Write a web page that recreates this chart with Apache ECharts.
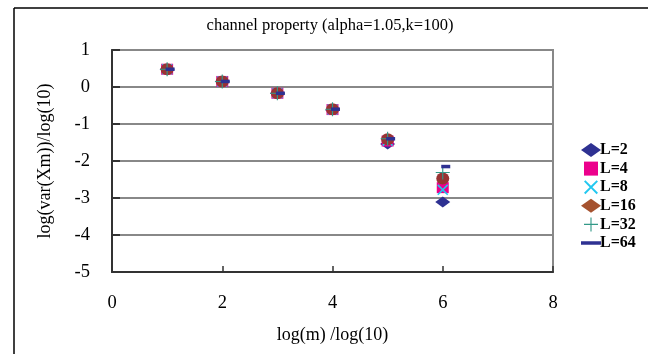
<!DOCTYPE html>
<html>
<head>
<meta charset="utf-8">
<script src="https://cdn.jsdelivr.net/npm/echarts@6/dist/echarts.min.js"></script>
<style>html,body{margin:0;padding:0;background:#fff}#c{width:648px;height:354px}</style>
</head>
<body>
<div id="c"></div>
<script>
var xValues = [1, 2, 3, 4, 5, 6];
var seriesNames = ['L=2', 'L=4', 'L=8', 'L=16', 'L=32', 'L=64'];
var L2  = [0.48, 0.15, -0.17, -0.62, -1.54, -3.11];
var L4  = [0.48, 0.15, -0.17, -0.61, -1.46, -2.72];
var L8  = [0.48, 0.15, -0.17, -0.61, -1.45, -2.78];
var L16 = [0.48, 0.15, -0.17, -0.60, -1.41, -2.47];
var L32 = [0.48, 0.15, -0.17, -0.60, -1.40, -2.31];
var L64 = [0.48, 0.15, -0.17, -0.60, -1.40, -2.15];
var xTicks = [0, 2, 4, 6, 8];
var yTicks = [-5, -4, -3, -2, -1, 0, 1];

var allData = [L2, L4, L8, L16, L32, L64];
var FONT = '"Liberation Serif", "DejaVu Serif", serif';
var crossX = 'path://M0,1L1,0L5,4L9,0L10,1L6,5L10,9L9,10L5,6L1,10L0,9L4,5Z';
var plusP = 'path://M4.6,0H5.4V4.6H10V5.4H5.4V10H4.6V5.4H0V4.6H4.6Z';
var styles = [
  {symbol: 'diamond', size: [15, 11], color: '#2E3192', icon: 'diamond'},
  {symbol: 'rect', size: [12, 11], color: '#EC008C', icon: 'path://M0,0H10V10H0Z'},
  {symbol: crossX, size: [11, 11], color: '#22C8F0', icon: crossX},
  {symbol: 'circle', size: [13, 12], color: '#993333', icon: 'diamond', legendColor: '#A5522F'},
  {symbol: plusP, size: [14, 14], color: '#339988', icon: plusP},
  {symbol: 'rect', size: [9, 3.5], color: '#2E3192', icon: 'path://M0,0H20V3.5H0Z', offset: [3, 0]}
];

var series = seriesNames.map(function (n, i) {
  var s = styles[i];
  return {
    name: n,
    type: 'scatter',
    symbol: s.symbol,
    symbolSize: s.size,
    symbolOffset: s.offset || [0, 0],
    itemStyle: {color: s.color, opacity: 1},
    data: xValues.map(function (x, j) { return [x, allData[i][j]]; }),
    z: 3 + i
  };
});

var chart = echarts.init(document.getElementById('c'), null, {renderer: 'canvas'});
chart.setOption({
  backgroundColor: '#fff',
  animation: false,
  title: {
    text: 'channel property (alpha=1.05,k=100)',
    left: 325, top: 12, textAlign: 'center',
    textStyle: {fontFamily: FONT, fontSize: 16.5, fontWeight: 'normal', color: '#000'}
  },
  grid: {left: 112, right: 95, top: 50, bottom: 82, show: true, borderColor: '#888', borderWidth: 2, backgroundColor: 'transparent'},
  legend: {
    orient: 'vertical', left: 576, top: 137,
    itemWidth: 20, itemHeight: 14, itemGap: 2.6,
    textStyle: {fontFamily: FONT, fontSize: 16, fontWeight: 'bold', color: '#000', padding: [0, 0, 0, -6]},
    data: seriesNames.map(function (n, i) {
      var d = {name: n, icon: styles[i].icon};
      if (styles[i].legendColor) d.itemStyle = {color: styles[i].legendColor};
      return d;
    })
  },
  xAxis: {
    type: 'value', min: xTicks[0], max: xTicks[xTicks.length - 1], interval: 2,
    name: 'log(m) /log(10)', nameLocation: 'middle', nameGap: 54,
    nameTextStyle: {fontFamily: FONT, fontSize: 18, color: '#000'},
    axisLine: {show: true, onZero: false, lineStyle: {color: '#333', width: 2}},
    axisTick: {show: true, inside: true, length: 6, lineStyle: {color: '#333', width: 1.5}},
    axisLabel: {fontFamily: FONT, fontSize: 18.5, color: '#000', margin: 22},
    splitLine: {show: false}
  },
  yAxis: {
    type: 'value', min: yTicks[0], max: yTicks[yTicks.length - 1], interval: 1,
    name: 'log(var(Xm))/log(10)', nameLocation: 'middle', nameGap: 58, nameRotate: 90,
    nameTextStyle: {fontFamily: FONT, fontSize: 18, color: '#000'},
    axisLine: {show: true, onZero: false, lineStyle: {color: '#333', width: 2}},
    axisTick: {show: true, inside: true, length: 8, lineStyle: {color: '#333', width: 2}},
    axisLabel: {fontFamily: FONT, fontSize: 18.5, color: '#000', margin: 22},
    splitLine: {show: true, lineStyle: {color: '#888', width: 2}}
  },
  graphic: [
    {type: 'line', shape: {x1: 14, y1: 8, x2: 14, y2: 354}, style: {stroke: '#000', lineWidth: 1.5}, silent: true},
    {type: 'line', shape: {x1: 14, y1: 8, x2: 648, y2: 8}, style: {stroke: '#000', lineWidth: 1.5}, silent: true}
  ],
  series: series
});
</script>
</body>
</html>
